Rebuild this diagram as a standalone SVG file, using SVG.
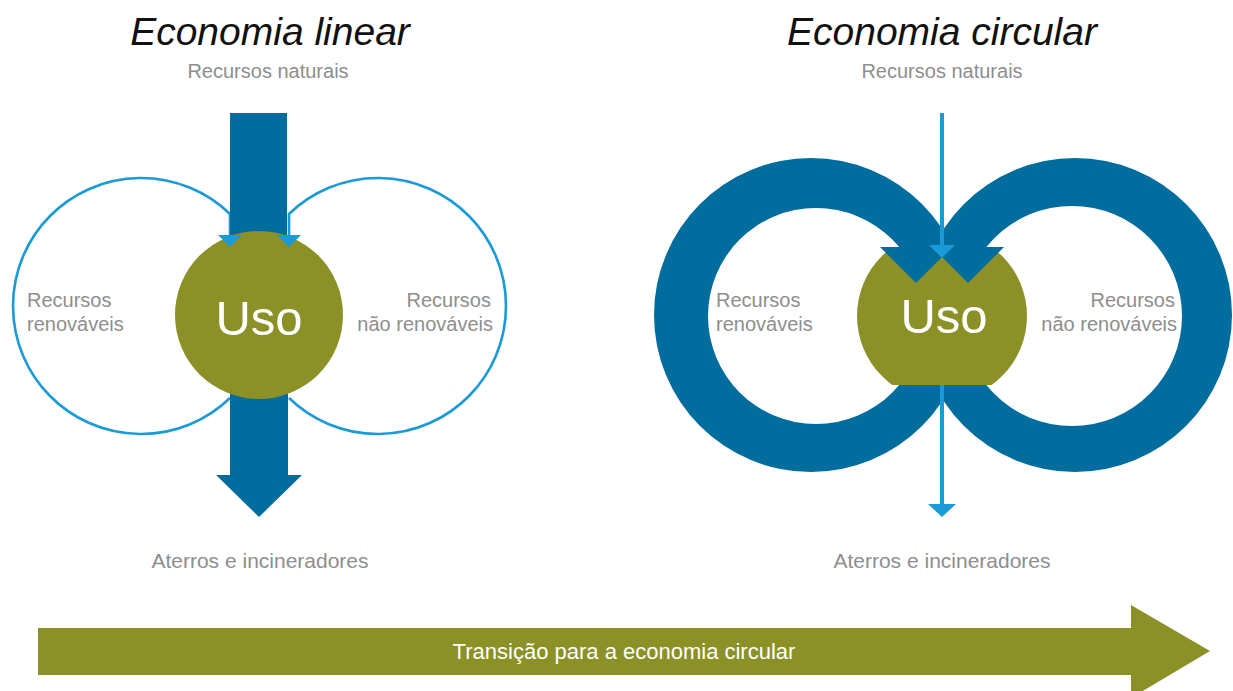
<svg xmlns="http://www.w3.org/2000/svg" width="1233" height="691" viewBox="0 0 1233 691">
  <defs>
    <style>
      .title { font-family: "Liberation Sans", Arial, sans-serif; font-style: italic; font-size: 39px; fill: #111111; text-anchor: middle; }
      .lbl { font-family: "Liberation Sans", Arial, sans-serif; font-size: 20px; fill: #8e8e8e; }
      .big { font-size: 21px; }
      .mid { text-anchor: middle; }
      .end { text-anchor: end; }
      .uso { font-family: "Liberation Sans", Arial, sans-serif; font-size: 49px; fill: #ffffff; text-anchor: middle; }
      .thin { fill: none; stroke: #1a9ad7; stroke-width: 2.6; }
      .light { fill: #1a9ad7; }
      .dark { fill: #006d9e; }
      .olive { fill: #8b9127; }
      .trans { font-family: "Liberation Sans", Arial, sans-serif; font-size: 22px; fill: #ffffff; text-anchor: middle; }
    </style>
    <clipPath id="usoClip">
      <rect x="840" y="247" width="210" height="138"/>
    </clipPath>
  </defs>
  <rect width="1233" height="691" fill="#ffffff"/>

  <!-- Titles -->
  <g id="titles">
    <text class="title" x="270" y="45">Economia linear</text>
    <text class="title" x="942" y="45">Economia circular</text>
  </g>

  <!-- ===== Linear economy ===== -->
  <g id="connectors-linear">
    <path class="thin" d="M230,236 L230,214 A128,128 0 1 0 230,398"/>
    <path class="thin" d="M289,236 L289,214 A128,128 0 1 1 289,398"/>
    <rect class="dark" x="230" y="113" width="57" height="130"/>
    <polygon class="dark" points="230,385 288,385 288,475 302,475 259,517 216,475 230,475"/>
  </g>
  <g id="uso-linear">
    <circle class="olive" cx="259" cy="315" r="84"/>
    <text class="uso" x="259" y="335">Uso</text>
  </g>
  <g id="arrowheads-linear">
    <polygon class="light" points="218,235 242,235 230,247"/>
    <polygon class="light" points="277,235 301,235 289,247"/>
  </g>
  <g id="labels-linear">
    <text class="lbl mid" x="268" y="78">Recursos naturais</text>
    <text class="lbl" x="27" y="307">Recursos</text>
    <text class="lbl" x="27" y="331">renováveis</text>
    <text class="lbl end" x="491" y="307">Recursos</text>
    <text class="lbl end" x="493" y="331">não renováveis</text>
    <text class="lbl big mid" x="260" y="568">Aterros e incineradores</text>
  </g>

  <!-- ===== Circular economy ===== -->
  <g id="rings-circular">
    <path class="dark" fill-rule="evenodd" d="M654,315 A157,157 0 1 0 968,315 A157,157 0 1 0 654,315 Z M708,316 A108,108 0 1 1 924,316 A108,108 0 1 1 708,316 Z"/>
    <path class="dark" fill-rule="evenodd" d="M918,315 A157,157 0 1 0 1232,315 A157,157 0 1 0 918,315 Z M962,316 A110,110 0 1 1 1182,316 A110,110 0 1 1 962,316 Z"/>
  </g>
  <g id="uso-circular">
    <circle class="olive" cx="942" cy="316" r="85" clip-path="url(#usoClip)"/>
    <text class="uso" x="944" y="333">Uso</text>
  </g>
  <g id="arrowheads-circular">
    <polygon class="dark" points="880,247 952,247 916,283"/>
    <polygon class="dark" points="932,247 1004,247 968,283"/>
  </g>
  <g id="connectors-circular">
    <line x1="942" y1="113" x2="942" y2="247" stroke="#1a9ad7" stroke-width="4"/>
    <polygon class="light" points="929,245 955,245 942,258"/>
    <line x1="942" y1="385" x2="942" y2="506" stroke="#1a9ad7" stroke-width="4"/>
    <polygon class="light" points="928,504 956,504 942,517"/>
  </g>
  <g id="labels-circular">
    <text class="lbl mid" x="942" y="78">Recursos naturais</text>
    <text class="lbl" x="716" y="307">Recursos</text>
    <text class="lbl" x="716" y="331">renováveis</text>
    <text class="lbl end" x="1175" y="307">Recursos</text>
    <text class="lbl end" x="1177" y="331">não renováveis</text>
    <text class="lbl big mid" x="942" y="568">Aterros e incineradores</text>
  </g>

  <!-- ===== Transition arrow ===== -->
  <g id="transition">
    <polygon class="olive" points="38,628 1131,628 1131,605 1210,651 1131,698 1131,675 38,675"/>
    <text class="trans" x="624" y="659">Transição para a economia circular</text>
  </g>
</svg>
